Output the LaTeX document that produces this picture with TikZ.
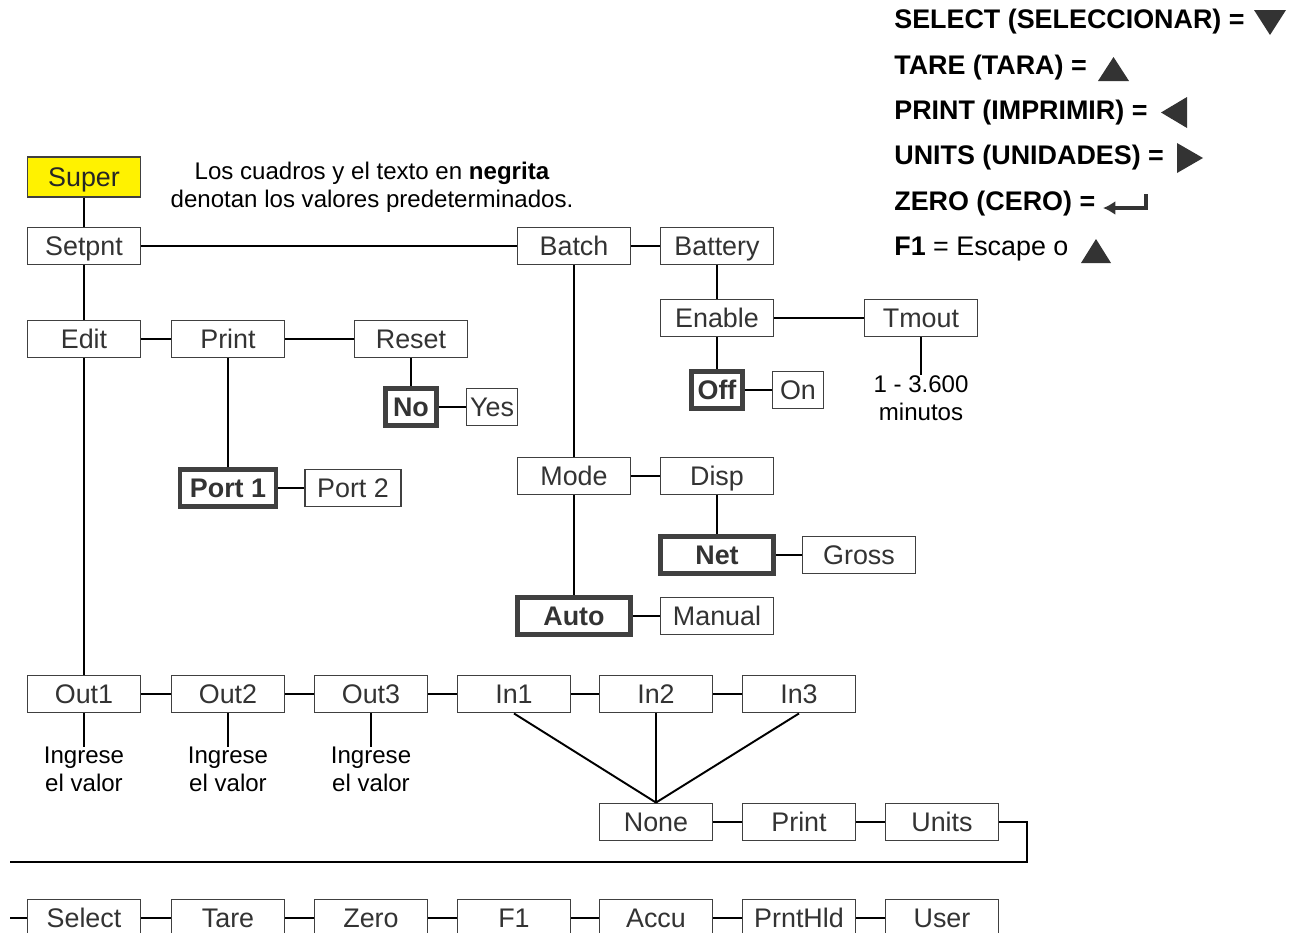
\documentclass[tikz,border=0pt]{standalone}
\usepackage{fontspec}
\setmainfont{Liberation Sans}
\usetikzlibrary{arrows.meta}
\newcommand{\fsz}{\fontsize{15.3}{15.9}\selectfont}
\newcommand{\nsz}{\fontsize{13.7}{15.9}\selectfont}
\definecolor{boxline}{HTML}{404040}
\definecolor{boxtext}{HTML}{333333}
\definecolor{superfill}{HTML}{FFF200}

\begin{document}
\begin{tikzpicture}[x=0.02cm,y=-0.02cm,
  every node/.style={font=\fsz},
  box/.style={draw=boxline,line width=0.8pt,fill=white,text=boxtext,inner sep=0pt,minimum width=2.26cm,minimum height=0.75cm,text height=13pt,text depth=2pt},
  smallbox/.style={box,minimum width=1.02cm},
  portbox/.style={box,minimum width=1.92cm},
  defbox/.style={line width=2.8pt,font=\fsz\bfseries},
  link/.style={line width=1.1pt},
  note/.style={align=center,inner sep=0pt,font=\nsz},
  key/.style={anchor=west,inner sep=0pt,font=\fsz\bfseries},
  keytip/.style={fill=black!80,draw=none}]
\useasboundingbox (0,0) rectangle (1295,933);
\clip (0,0) rectangle (1295,933);
\node[box,fill=superfill,text=black!85,minimum height=0.8cm] (super) at (84,177) {Super};
\node[box] (setpnt) at (84,246) {Setpnt};
\node[box] (batch) at (574,246) {Batch};
\node[box] (battery) at (717,246) {Battery};
\node[box] (edit) at (84,339) {Edit};
\node[box] (print) at (228,339) {Print};
\node[box] (reset) at (411,339) {Reset};
\node[smallbox,defbox] (no) at (411,407) {No};
\node[smallbox] (yes) at (492,407) {Yes};
\node[box] (enable) at (717,318) {Enable};
\node[box] (tmout) at (921,318) {Tmout};
\node[smallbox,defbox] (off) at (717,390) {Off};
\node[smallbox] (on) at (798,390) {On};
\node[portbox,defbox] (port1) at (228,488) {Port 1};
\node[portbox] (port2) at (353,488) {Port 2};
\node[box] (mode) at (574,476) {Mode};
\node[box] (disp) at (717,476) {Disp};
\node[box,defbox] (net) at (717,555) {Net};
\node[box] (gross) at (859,555) {Gross};
\node[box,defbox] (auto) at (574,616) {Auto};
\node[box] (manual) at (717,616) {Manual};
\node[box] (out1) at (84,694) {Out1};
\node[box] (out2) at (228,694) {Out2};
\node[box] (out3) at (371,694) {Out3};
\node[box] (in1) at (514,694) {In1};
\node[box] (in2) at (656,694) {In2};
\node[box] (in3) at (799,694) {In3};
\node[box] (none) at (656,822) {None};
\node[box] (printkey) at (799,822) {Print};
\node[box] (units) at (942,822) {Units};
\node[box] (select) at (84,918) {Select};
\node[box] (tare) at (228,918) {Tare};
\node[box] (zero) at (371,918) {Zero};
\node[box] (fone) at (514,918) {F1};
\node[box] (accu) at (656,918) {Accu};
\node[box] (prnthld) at (799,918) {PrntHld};
\node[box] (user) at (942,918) {User};
\node[note,anchor=north] (tmtext) at (921,375) {1 - 3.600\\minutos};
\node[note,anchor=north] (val1) at (84,747) {Ingrese\\el valor};
\node[note,anchor=north] (val2) at (228,747) {Ingrese\\el valor};
\node[note,anchor=north] (val3) at (371,747) {Ingrese\\el valor};
\node[note] (remark) at (372,187) {Los cuadros y el texto en \textbf{negrita}\\denotan los valores predeterminados.};
\coordinate (wrap) at (10,862);
\coordinate (rowstart) at (10,918);
\draw[link] (super) -- (setpnt);
\draw[link] (setpnt) -- (batch);
\draw[link] (batch) -- (battery);
\draw[link] (setpnt) -- (edit);
\draw[link] (edit) -- (print);
\draw[link] (print) -- (reset);
\draw[link] (reset) -- (no);
\draw[link] (no) -- (yes);
\draw[link] (print) -- (port1);
\draw[link] (port1) -- (port2);
\draw[link] (battery) -- (enable);
\draw[link] (enable) -- (tmout);
\draw[link] (enable) -- (off);
\draw[link] (off) -- (on);
\draw[link] (tmout) -- (tmtext);
\draw[link] (batch) -- (mode);
\draw[link] (mode) -- (disp);
\draw[link] (disp) -- (net);
\draw[link] (net) -- (gross);
\draw[link] (mode) -- (auto);
\draw[link] (auto) -- (manual);
\draw[link] (edit) -- (out1);
\draw[link] (out1) -- (out2);
\draw[link] (out2) -- (out3);
\draw[link] (out3) -- (in1);
\draw[link] (in1) -- (in2);
\draw[link] (in2) -- (in3);
\draw[link] (out1) -- (val1);
\draw[link] (out2) -- (val2);
\draw[link] (out3) -- (val3);
\draw[link] (in1.south) -- (none.north);
\draw[link] (in2.south) -- (none.north);
\draw[link] (in3.south) -- (none.north);
\draw[link] (none) -- (printkey);
\draw[link] (printkey) -- (units);
\draw[link] (units.east) -- ++(28,0) |- (wrap);
\draw[link] (rowstart) -- (select);
\draw[link] (select) -- (tare);
\draw[link] (tare) -- (zero);
\draw[link] (zero) -- (fone);
\draw[link] (fone) -- (accu);
\draw[link] (accu) -- (prnthld);
\draw[link] (prnthld) -- (user);
\node[key] (kselect) at (894,22) {SELECT (SELECCIONAR) =};
\node[key] (ktare) at (894,68) {TARE (TARA) =};
\node[key] (kprint) at (894,113) {PRINT (IMPRIMIR) =};
\node[key] (kunits) at (894,158) {UNITS (UNIDADES) =};
\node[key] (kzero) at (894,204) {ZERO (CERO) =};
\node[key] (kfone) at (894,249) {F1 \textmd{= Escape o}};
\fill[keytip] (1254,10) -- (1286,10) -- (1270,35) -- cycle;
\fill[keytip] (1098,81) -- (1129,81) -- (1113.5,57) -- cycle;
\fill[keytip] (1187,97) -- (1187,128) -- (1161,112.5) -- cycle;
\fill[keytip] (1177,143) -- (1177,173) -- (1203,158) -- cycle;
\draw[line width=2.2pt,black!80,-{Latex[length=7pt,width=8pt]}] (1146,194) -- (1146,208) -- (1103,208);
\fill[keytip] (1081,263) -- (1111,263) -- (1096,239) -- cycle;
\end{tikzpicture}
\end{document}
